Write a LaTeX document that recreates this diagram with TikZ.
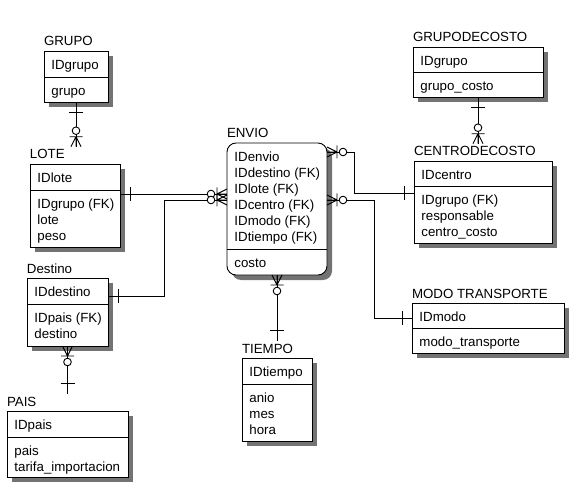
\documentclass[tikz,border=0pt]{standalone}
\usepackage{fontspec}
\setmainfont{Liberation Sans}
\usetikzlibrary{calc,shadows}
\tikzset{
  ent/.style={draw,fill=white,inner sep=0pt,outer sep=0pt,anchor=north west,
    general shadow={fill=black!55,shadow xshift=5pt,shadow yshift=-5pt}},
  titulo/.style={inner sep=0pt,outer xsep=0pt,outer ysep=3pt,anchor=base west},
  campos/.style={inner sep=0pt,anchor=north west,align=left},
}
\newcommand\lin{\rule{0pt}{10pt}}
% [opciones]{nombre}{x,y}{ancho}{alto}{titulo}{clave}{atributos}{division}
\newcommand\entidad[9][]{%
  \node[ent,#1,minimum width=#4pt,minimum height=#5pt] (#2) at (#3) {};
  \node[titulo] (t#2) at ($(#2.north west)+(0,-5)$) {#6};
  \draw ($(#2.north west)+(0,#9)$) -- ($(#2.north east)+(0,#9)$);
  \node[campos] (#2pk) at ($(#2.north west)+(7,8)$) {\lin #7};
  \node[campos] (#2at) at ($(#2.north west)+(7,#9+8)$) {\lin #8};}
\newcommand\uno[2]{\begin{scope}[shift={#1},rotate=#2]
  \draw (10,-7) -- (10,7);
  \end{scope}}
\newcommand\muchos[2]{\begin{scope}[shift={#1},rotate=#2]
  \draw (0,-5) -- (10,0) (0,0) -- (10,0) (0,5) -- (10,0) (10,-6.5) -- (10,6.5);
  \draw[fill=white] (16,0) circle[radius=3.8pt];
  \end{scope}}

\begin{document}
\begin{tikzpicture}[x=1pt,y=-1pt,line width=0.9pt,font=\fontsize{13.3}{16}\selectfont]
\useasboundingbox (0,0) rectangle (576,492);
\entidad{grupo}{44,51}{64}{51}{GRUPO}{IDgrupo}{grupo}{26}
\entidad{lote}{30,164}{90}{83}{LOTE}{IDlote}{IDgrupo (FK)\\lote\\peso}{26}
\entidad[rounded corners=9pt]{envio}{227,143}{100}{132}{ENVIO}{IDenvio\\IDdestino (FK)\\IDlote (FK)\\IDcentro (FK)\\IDmodo (FK)\\IDtiempo (FK)}{costo}{106}
\entidad{destino}{27,278}{81}{68}{Destino}{IDdestino}{IDpais (FK)\\destino}{26}
\entidad{pais}{7,411}{121}{66}{PAIS}{IDpais}{pais\\tarifa\_importacion}{26}
\entidad{tiempo}{242,358}{70}{83}{TIEMPO}{IDtiempo}{anio\\mes\\hora}{26}
\entidad{grupocosto}{413,47}{130}{50}{GRUPODECOSTO}{IDgrupo}{grupo\_costo}{25}
\entidad{centro}{414,161}{138}{82}{CENTRODECOSTO}{IDcentro}{IDgrupo (FK)\\responsable\\centro\_costo}{25}
\entidad{modo}{412,303}{152}{50}{MODO TRANSPORTE}{IDmodo}{modo\_transporte}{25}

\draw (grupo.south) -- (grupo.south |- tlote.north);
\uno{(grupo.south)}{-90}
\muchos{(grupo.south |- tlote.north)}{90}

\draw (grupocosto.south) -- (grupocosto.south |- tcentro.north);
\uno{(grupocosto.south)}{-90}
\muchos{(grupocosto.south |- tcentro.north)}{90}

\coordinate (l1) at ($(lote.north east)+(0,30)$);
\draw (l1) -- (l1 -| envio.west);
\uno{(l1)}{0}
\muchos{(l1 -| envio.west)}{180}

\coordinate (d1) at ($(destino.north east)+(0,18)$);
\coordinate (d2) at ($(envio.north west)+(0,57)$);
\draw (d1) -- ++(56,0) |- (d2);
\uno{(d1)}{0}
\muchos{(d2)}{180}

\coordinate (e1) at ($(envio.north east)+(0,9)$);
\coordinate (c1) at ($(centro.north west)+(0,32)$);
\draw (e1) -- ++(27,0) |- (c1);
\uno{(c1)}{180}
\muchos{(e1)}{0}

\coordinate (e2) at ($(envio.north east)+(0,57)$);
\coordinate (m1) at ($(modo.north west)+(0,15)$);
\draw (e2) -- ++(47,0) |- (m1);
\uno{(m1)}{180}
\muchos{(e2)}{0}

\draw (envio.south) -- (envio.south |- ttiempo.north);
\uno{(envio.south |- ttiempo.north)}{90}
\muchos{(envio.south)}{-90}

\draw (destino.south) -- (destino.south |- tpais.north);
\uno{(destino.south |- tpais.north)}{90}
\muchos{(destino.south)}{-90}
\end{tikzpicture}
\end{document}
